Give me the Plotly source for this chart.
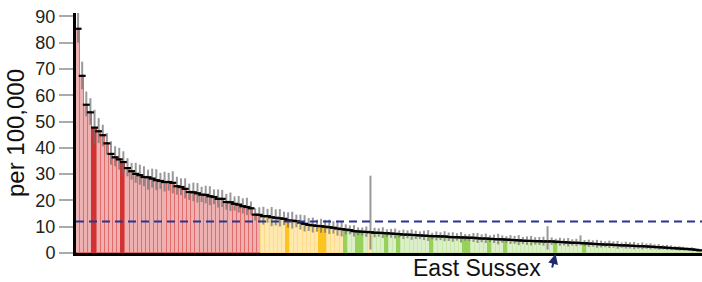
import plotly.graph_objects as go

# Rank position of each upper-tier local authority (sorted by rate, descending)
area_rank = list(range(152))

rate = [85.3, 67.4, 56.4, 53.5, 47.7, 46.3, 44.8, 41.7, 37.7, 36.4,
        35.6, 34.6, 32.3, 31.1, 30.1, 29.6, 28.9, 28.8, 28.3, 27.7,
        27.4, 27.0, 27.0, 26.7, 25.4, 25.1, 24.4, 23.2, 23.1, 22.7,
        22.2, 22.1, 21.6, 21.3, 20.6, 20.6, 19.4, 19.3, 18.7, 18.4,
        17.8, 17.5, 17.0, 14.6, 14.5, 14.0, 14.0, 13.6, 13.4, 13.2,
        13.0, 12.4, 12.3, 12.1, 11.6, 11.1, 10.7, 10.5, 10.3, 10.2,
        10.0, 9.8, 9.6, 9.3, 9.1, 8.9, 8.7, 8.3, 8.2, 8.1,
        8.0, 7.9, 7.7, 7.7, 7.6, 7.5, 7.4, 7.3, 7.2, 7.0,
        7.0, 6.9, 6.8, 6.7, 6.6, 6.5, 6.4, 6.4, 6.3, 6.3,
        6.1, 6.0, 6.0, 5.9, 5.9, 5.8, 5.8, 5.6, 5.5, 5.5,
        5.4, 5.3, 5.2, 5.2, 5.1, 5.0, 4.9, 4.8, 4.7, 4.6,
        4.6, 4.5, 4.5, 4.4, 4.4, 4.4, 4.3, 4.2, 4.1, 4.0,
        3.9, 3.9, 3.8, 3.7, 3.6, 3.5, 3.4, 3.3, 3.2, 3.2,
        3.1, 3.0, 2.9, 2.9, 2.8, 2.7, 2.6, 2.6, 2.5, 2.4,
        2.3, 2.2, 2.1, 2.0, 1.9, 1.8, 1.7, 1.6, 1.5, 1.4,
        1.2, 1.0]

ci_plus = [6.5, 5.4, 5.0, 5.4, 6.8, 5.0, 4.0, 3.9, 4.8, 4.2,
           4.4, 4.1, 3.8, 3.2, 4.2, 4.0, 4.1, 2.9, 3.8, 4.2,
           3.1, 3.9, 3.5, 4.4, 3.6, 3.3, 4.0, 3.2, 3.7, 3.9,
           3.0, 3.5, 3.8, 2.9, 3.6, 3.4, 3.1, 3.7, 2.8, 3.3,
           3.0, 3.5, 2.6, 2.4, 2.9, 3.6, 2.8, 3.9, 3.2, 3.5,
           2.7, 3.1, 3.4, 2.5, 3.0, 3.3, 2.6, 3.0, 2.4, 2.8,
           2.6, 2.9, 2.5, 3.0, 3.1, 2.0, 1.8, 2.3, 1.5, 1.6,
           2.1, 21.5, 1.9, 1.7, 2.2, 1.5, 1.8, 2.0, 1.4, 1.9,
           1.6, 2.1, 1.7, 1.5, 1.9, 2.2, 1.3, 1.8, 1.6, 2.0,
           1.7, 1.9, 1.5, 2.1, 1.3, 1.4, 1.8, 2.0, 1.6, 1.9,
           1.3, 1.7, 2.1, 1.5, 1.3, 1.8, 1.6, 2.0, 1.4, 1.7,
           1.9, 1.5, 1.6, 1.8, 5.8, 1.5, 1.1, 1.6, 1.4, 1.7,
           1.3, 1.5, 2.9, 1.2, 1.5, 1.3, 1.6, 1.4, 1.2, 1.5,
           1.3, 1.6, 1.1, 1.4, 1.3, 1.5, 1.2, 1.4, 1.1, 1.3,
           1.0, 1.2, 0.9, 1.1, 1.0, 0.8, 0.9, 0.8, 0.7, 0.8,
           0.6, 0.5]

ci_minus = [5.3, 5.1, 4.4, 4.7, 6.5, 4.5, 4.2, 4.3, 4.1, 3.4,
            3.9, 4.8, 3.1, 3.2, 3.4, 3.6, 3.5, 4.7, 3.4, 3.8,
            3.0, 3.6, 3.3, 4.0, 3.2, 3.1, 3.6, 3.0, 3.4, 3.5,
            2.8, 3.2, 3.4, 2.7, 3.3, 3.1, 2.9, 3.3, 2.6, 3.0,
            2.8, 3.1, 2.4, 2.2, 2.3, 3.2, 2.5, 3.4, 2.9, 3.1,
            2.4, 2.8, 3.0, 2.3, 2.7, 2.9, 2.3, 2.7, 2.2, 2.5,
            2.3, 2.6, 2.2, 2.7, 2.8, 1.8, 1.6, 2.0, 1.4, 1.4,
            1.9, 6.6, 1.7, 1.5, 1.9, 1.3, 1.6, 1.8, 1.3, 1.7,
            1.4, 1.9, 1.5, 1.4, 1.7, 1.9, 1.2, 1.6, 1.4, 1.8,
            1.5, 1.7, 1.3, 1.9, 1.2, 1.2, 1.6, 1.8, 1.4, 1.7,
            1.2, 1.5, 1.9, 1.3, 1.2, 1.6, 1.4, 1.8, 1.3, 1.5,
            1.7, 1.3, 1.4, 1.6, 3.1, 1.3, 1.0, 1.4, 1.2, 1.5,
            1.1, 1.3, 0.9, 1.0, 1.3, 1.1, 1.4, 1.2, 1.0, 1.3,
            1.1, 1.4, 0.9, 1.2, 1.1, 1.3, 1.0, 1.2, 0.9, 1.1,
            0.9, 1.0, 0.8, 0.9, 0.8, 0.7, 0.8, 0.7, 0.6, 0.7,
            0.5, 0.4]

# Comparison with England: worse / similar / better
status = (["worse"] * 45 + ["similar"] * 20 + ["better"] * 6
          + ["similar"] + ["better"] * 80)

# Ranks of the areas in the highlighted region
highlighted = [4, 11, 51, 59, 60, 65, 68, 69, 75, 78, 86, 94, 95,
               100, 104, 116, 123]

england_rate = 12.0
label_area = "East Sussex"
label_rank = 116

fill = {("worse", False): "#EDB1B1", ("worse", True): "#D13232",
        ("similar", False): "#FFE9AE", ("similar", True): "#FFC31F",
        ("better", False): "#DCEFC9", ("better", True): "#97D05A"}
edge = {("worse", False): "#E06C6C", ("worse", True): "#D13232",
        ("similar", False): "#FCDC8C", ("similar", True): "#FFC31F",
        ("better", False): "#C9E6AC", ("better", True): "#97D05A"}

keys = [(s, i in highlighted) for i, s in enumerate(status)]

fig = go.Figure()
fig.add_trace(go.Bar(
    x=area_rank, y=rate,
    marker=dict(color=[fill[k] for k in keys],
                line=dict(color=[edge[k] for k in keys], width=1)),
    error_y=dict(type="data", symmetric=False, array=ci_plus,
                 arrayminus=ci_minus, color="rgba(110,110,110,0.7)",
                 thickness=2, width=0),
    showlegend=False,
))
fig.add_trace(go.Scatter(
    x=area_rank, y=rate, mode="markers",
    marker=dict(symbol="line-ew", size=5,
                line=dict(color="black", width=2.2)),
    showlegend=False, hoverinfo="skip",
))

fig.add_shape(type="line", xref="paper", x0=0, x1=1, yref="y",
              y0=england_rate, y1=england_rate,
              line=dict(color="#2B3590", width=2, dash="8px,5px"),
              layer="above")

fig.add_annotation(x=label_rank, y=0, xref="x", yref="y",
                   text=label_area, showarrow=False,
                   xanchor="right", yanchor="middle",
                   xshift=-13, yshift=-15,
                   font=dict(family="Arial, Liberation Sans", size=23,
                             color="#111"))
fig.add_annotation(x=label_rank, y=0, xref="x", yref="y", text="",
                   showarrow=True, ax=-4, ay=16, standoff=1,
                   arrowhead=2, arrowsize=1, arrowwidth=2,
                   arrowcolor="#1F2A6B")

fig.update_layout(
    width=702, height=282,
    margin=dict(l=76, r=0, t=13, b=29),
    paper_bgcolor="white", plot_bgcolor="white",
    bargap=0,
    font=dict(family="Arial, Liberation Sans", color="#222"),
    xaxis=dict(range=[-0.5, 151.5], showticklabels=False, ticks="",
               showgrid=False, zeroline=False, showline=True,
               linecolor="black", linewidth=3),
    yaxis=dict(range=[0, 91.3], tickmode="array",
               tickvals=[0, 10, 20, 30, 40, 50, 60, 70, 80, 90],
               ticks="outside", ticklen=14, tickwidth=2,
               tickcolor="#AAAAAA", showgrid=False, zeroline=False,
               showline=True, linecolor="black", linewidth=3,
               tickfont=dict(size=18, color="#222"),
               title=dict(text="per 100,000",
                          font=dict(size=24, color="#111"), standoff=4)),
)

post = ("document.documentElement.style.margin='0';"
        "document.body.style.margin='0';document.body.style.padding='0';"
        "document.body.style.overflow='hidden';"
        "var gd=document.getElementById('{plot_id}');"
        "Plotly.relayout(gd,{width:702,height:282});")

fig.write_html("out.html", post_script=post,
               config={"responsive": False, "displayModeBar": False})
